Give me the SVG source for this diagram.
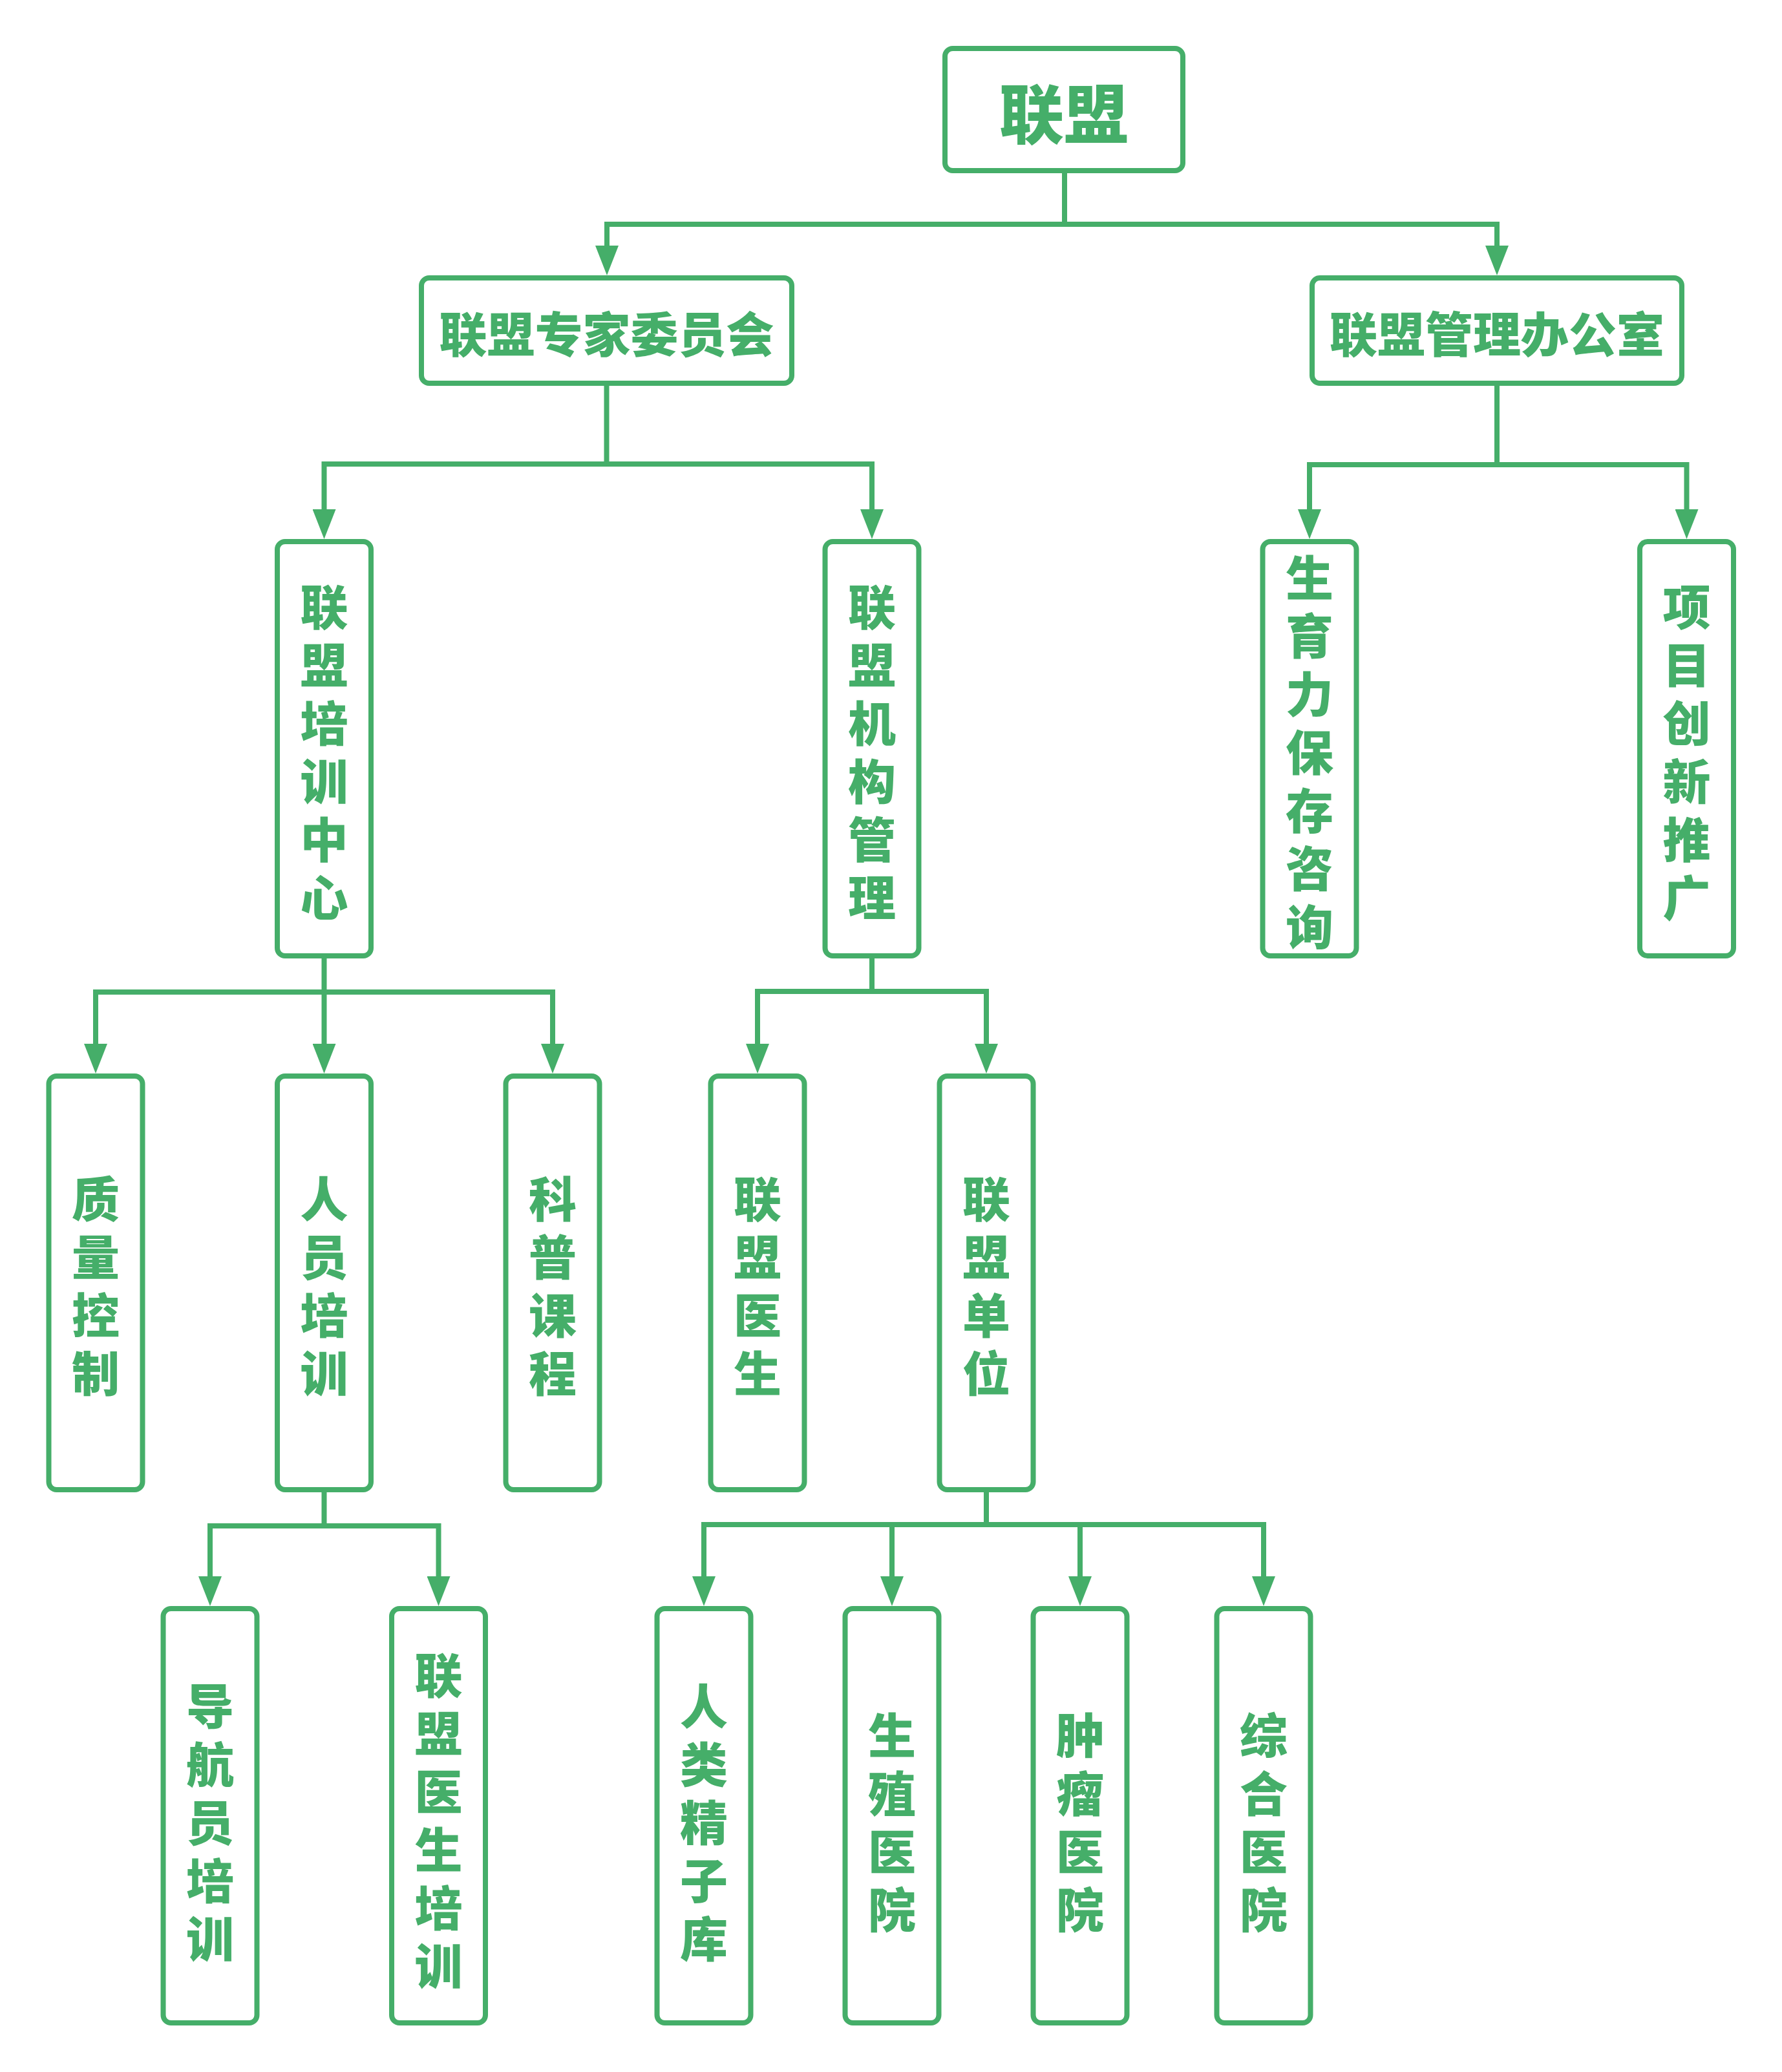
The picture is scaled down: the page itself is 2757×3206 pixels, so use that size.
<svg xmlns="http://www.w3.org/2000/svg" width="2757" height="3206" viewBox="0 0 2757 3206">
<style>
.box{fill:#fff;stroke:#45AE69;stroke-width:8}
.t{fill:#45AE69;font-family:"Noto Sans CJK SC","Noto Sans CJK JP",sans-serif;font-weight:900;font-size:74px;text-anchor:middle;dominant-baseline:central}
.big{font-size:100px}
.c{fill:none;stroke:#45AE69;stroke-width:8;stroke-linejoin:miter}
.a{marker-end:url(#arr)}
</style>
<defs>
<marker id="arr" markerUnits="userSpaceOnUse" viewBox="0 0 46 36" markerWidth="46" markerHeight="36" refX="0" refY="18" orient="auto">
<path d="M0,0 L46,18 L0,36 Z" fill="#45AE69"/>
</marker>
</defs>
<rect width="2757" height="3206" fill="#fff"/>
<g id="connectors">
<path class="c a" d="M1647,264 V347 H939 V380"/>
<path class="c a" d="M1647,347 H2316 V380"/>
<path class="c a" d="M938.5,593 V718 H501.5 V788"/>
<path class="c a" d="M938.5,718 H1349 V788"/>
<path class="c a" d="M2316,593 V719 H2026 V788"/>
<path class="c a" d="M2316,719 H2609.5 V788"/>
<path class="c a" d="M501.5,1479 V1535 H148 V1615"/>
<path class="c a" d="M501.5,1535 V1615"/>
<path class="c a" d="M501.5,1535 H855 V1615"/>
<path class="c a" d="M1349,1479 V1534 H1172 V1615"/>
<path class="c a" d="M1349,1534 H1526 V1615"/>
<path class="c a" d="M501.5,2305 V2361 H325 V2439"/>
<path class="c a" d="M501.5,2361 H678.5 V2439"/>
<path class="c a" d="M1526,2305 V2359 H1089 V2439"/>
<path class="c a" d="M1380,2359 V2439"/>
<path class="c a" d="M1526,2359 H1955 V2439"/>
<path class="c a" d="M1671,2359 V2439"/>
</g>
<g id="n0"><rect class="box" x="1462" y="75" width="368" height="189" rx="12"/><text class="t big" x="1646" y="170">联盟</text></g>
<g id="n1"><rect class="box" x="652" y="430" width="573" height="163" rx="12"/><text class="t" x="938.5" y="512">联盟专家委员会</text></g>
<g id="n2"><rect class="box" x="2030" y="430" width="572" height="163" rx="12"/><text class="t" x="2316" y="512">联盟管理办公室</text></g>
<g id="n3"><rect class="box" x="429" y="838" width="145" height="641" rx="12"/><text class="t"><tspan x="501.5" y="933.5">联</tspan><tspan x="501.5" y="1023.5">盟</tspan><tspan x="501.5" y="1113.5">培</tspan><tspan x="501.5" y="1203.5">训</tspan><tspan x="501.5" y="1293.5">中</tspan><tspan x="501.5" y="1383.5">心</tspan></text></g>
<g id="n4"><rect class="box" x="1276.5" y="838" width="145" height="641" rx="12"/><text class="t"><tspan x="1349" y="933.5">联</tspan><tspan x="1349" y="1023.5">盟</tspan><tspan x="1349" y="1113.5">机</tspan><tspan x="1349" y="1203.5">构</tspan><tspan x="1349" y="1293.5">管</tspan><tspan x="1349" y="1383.5">理</tspan></text></g>
<g id="n5"><rect class="box" x="1953.5" y="838" width="145" height="641" rx="12"/><text class="t"><tspan x="2026" y="888.5">生</tspan><tspan x="2026" y="978.5">育</tspan><tspan x="2026" y="1068.5">力</tspan><tspan x="2026" y="1158.5">保</tspan><tspan x="2026" y="1248.5">存</tspan><tspan x="2026" y="1338.5">咨</tspan><tspan x="2026" y="1428.5">询</tspan></text></g>
<g id="n6"><rect class="box" x="2537" y="838" width="145" height="641" rx="12"/><text class="t"><tspan x="2609.5" y="933.5">项</tspan><tspan x="2609.5" y="1023.5">目</tspan><tspan x="2609.5" y="1113.5">创</tspan><tspan x="2609.5" y="1203.5">新</tspan><tspan x="2609.5" y="1293.5">推</tspan><tspan x="2609.5" y="1383.5">广</tspan></text></g>
<g id="n7"><rect class="box" x="75.5" y="1665" width="145" height="640" rx="12"/><text class="t"><tspan x="148" y="1850">质</tspan><tspan x="148" y="1940">量</tspan><tspan x="148" y="2030">控</tspan><tspan x="148" y="2120">制</tspan></text></g>
<g id="n8"><rect class="box" x="429" y="1665" width="145" height="640" rx="12"/><text class="t"><tspan x="501.5" y="1850">人</tspan><tspan x="501.5" y="1940">员</tspan><tspan x="501.5" y="2030">培</tspan><tspan x="501.5" y="2120">训</tspan></text></g>
<g id="n9"><rect class="box" x="782.5" y="1665" width="145" height="640" rx="12"/><text class="t"><tspan x="855" y="1850">科</tspan><tspan x="855" y="1940">普</tspan><tspan x="855" y="2030">课</tspan><tspan x="855" y="2120">程</tspan></text></g>
<g id="n10"><rect class="box" x="1099.5" y="1665" width="145" height="640" rx="12"/><text class="t"><tspan x="1172" y="1850">联</tspan><tspan x="1172" y="1940">盟</tspan><tspan x="1172" y="2030">医</tspan><tspan x="1172" y="2120">生</tspan></text></g>
<g id="n11"><rect class="box" x="1453.5" y="1665" width="145" height="640" rx="12"/><text class="t"><tspan x="1526" y="1850">联</tspan><tspan x="1526" y="1940">盟</tspan><tspan x="1526" y="2030">单</tspan><tspan x="1526" y="2120">位</tspan></text></g>
<g id="n12"><rect class="box" x="252.5" y="2489" width="145" height="641" rx="12"/><text class="t"><tspan x="325" y="2634.5">导</tspan><tspan x="325" y="2724.5">航</tspan><tspan x="325" y="2814.5">员</tspan><tspan x="325" y="2904.5">培</tspan><tspan x="325" y="2994.5">训</tspan></text></g>
<g id="n13"><rect class="box" x="606" y="2489" width="145" height="641" rx="12"/><text class="t"><tspan x="678.5" y="2587">联</tspan><tspan x="678.5" y="2677">盟</tspan><tspan x="678.5" y="2767">医</tspan><tspan x="678.5" y="2857">生</tspan><tspan x="678.5" y="2947">培</tspan><tspan x="678.5" y="3037">训</tspan></text></g>
<g id="n14"><rect class="box" x="1016.5" y="2489" width="145" height="641" rx="12"/><text class="t"><tspan x="1089" y="2634.5">人</tspan><tspan x="1089" y="2724.5">类</tspan><tspan x="1089" y="2814.5">精</tspan><tspan x="1089" y="2904.5">子</tspan><tspan x="1089" y="2994.5">库</tspan></text></g>
<g id="n15"><rect class="box" x="1307.5" y="2489" width="145" height="641" rx="12"/><text class="t"><tspan x="1380" y="2679.5">生</tspan><tspan x="1380" y="2769.5">殖</tspan><tspan x="1380" y="2859.5">医</tspan><tspan x="1380" y="2949.5">院</tspan></text></g>
<g id="n16"><rect class="box" x="1598.5" y="2489" width="145" height="641" rx="12"/><text class="t"><tspan x="1671" y="2679.5">肿</tspan><tspan x="1671" y="2769.5">瘤</tspan><tspan x="1671" y="2859.5">医</tspan><tspan x="1671" y="2949.5">院</tspan></text></g>
<g id="n17"><rect class="box" x="1882.5" y="2489" width="145" height="641" rx="12"/><text class="t"><tspan x="1955" y="2679.5">综</tspan><tspan x="1955" y="2769.5">合</tspan><tspan x="1955" y="2859.5">医</tspan><tspan x="1955" y="2949.5">院</tspan></text></g>
</svg>
